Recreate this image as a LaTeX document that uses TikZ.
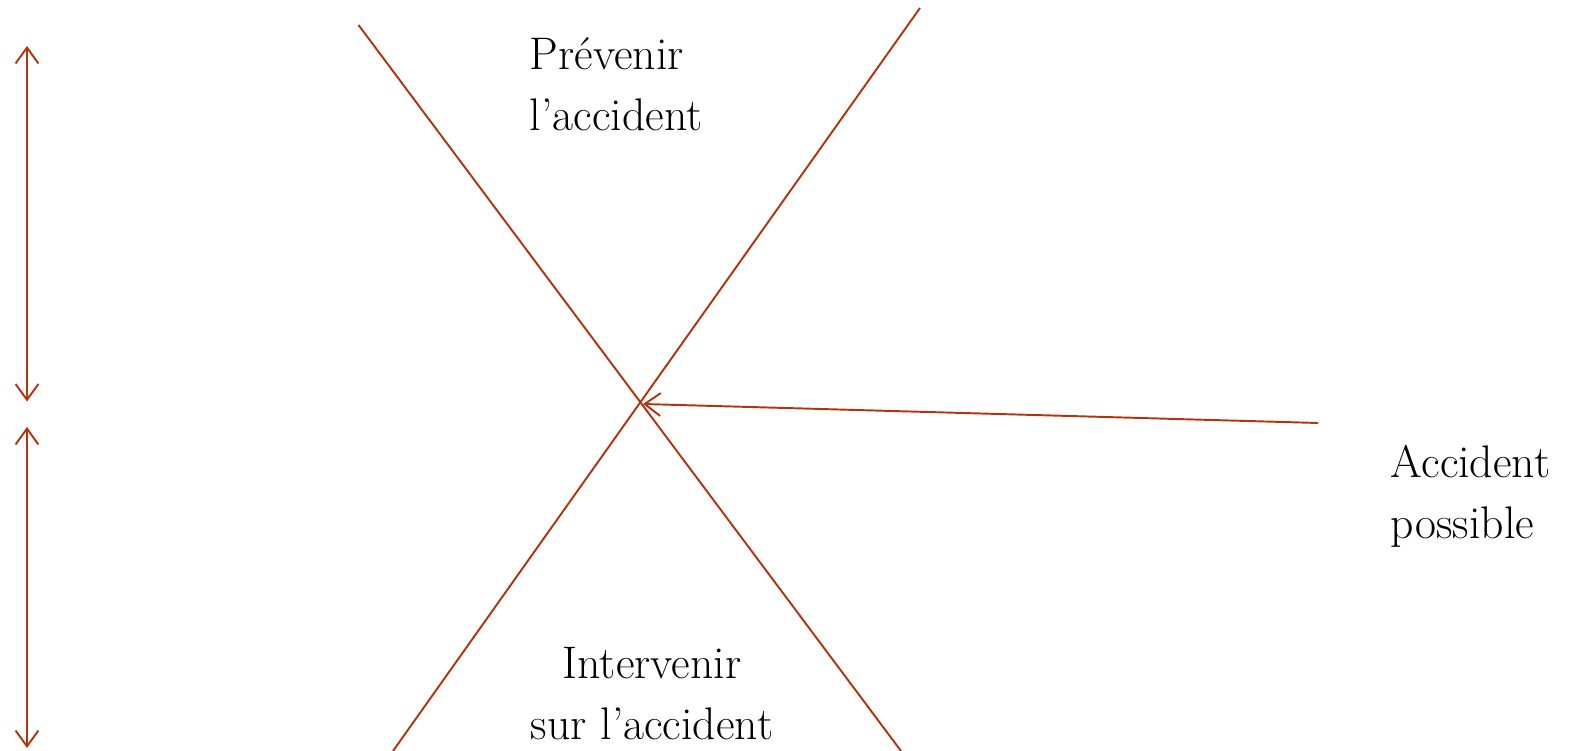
\documentclass[tikz,border=0pt]{standalone}
\usepackage{tikz}
\usetikzlibrary{arrows.meta}
\definecolor{rouille}{RGB}{178,52,14}

\begin{document}
\begin{tikzpicture}[line width=1.1pt,
  fleche/.style={draw=rouille, arrows={-{Straight Barb[length=9pt,width=13pt]}}},
  double fleche/.style={draw=rouille, arrows={{Straight Barb[length=9pt,width=13pt]}-{Straight Barb[length=9pt,width=13pt]}}},
  texte/.style={inner sep=0pt, font=\fontsize{26}{35}\selectfont}]

\useasboundingbox (0,0) rectangle (31.58,15.02);

\coordinate (hautA) at (7.17,14.52);
\coordinate (basA) at (18.02,0);
\coordinate (hautB) at (18.40,14.86);
\coordinate (basB) at (7.86,0);
\coordinate (croisement) at (12.86,6.94);
\coordinate (source) at (26.36,6.56);

\draw [rouille] (hautA) -- (basA);
\draw [rouille] (hautB) -- (basB);
\draw [fleche] (source) -- (croisement);

\coordinate (g1) at (0.54,14.10);
\coordinate (g2) at (0.54,6.99);
\coordinate (g3) at (0.54,6.48);
\coordinate (g4) at (0.54,0.06);
\draw [double fleche] (g1) -- (g2);
\draw [double fleche] (g3) -- (g4);

\node [texte, anchor=base west, align=left] (prevenir) at (10.58,12.40) {Prévenir\\l'accident};
\node [texte, anchor=base, align=center] (intervenir) at (13.04,0.22) {Intervenir\\sur l'accident};
\node [texte, anchor=base west, align=left] (possible) at (27.80,4.24) {Accident\\possible};

\end{tikzpicture}
\end{document}
